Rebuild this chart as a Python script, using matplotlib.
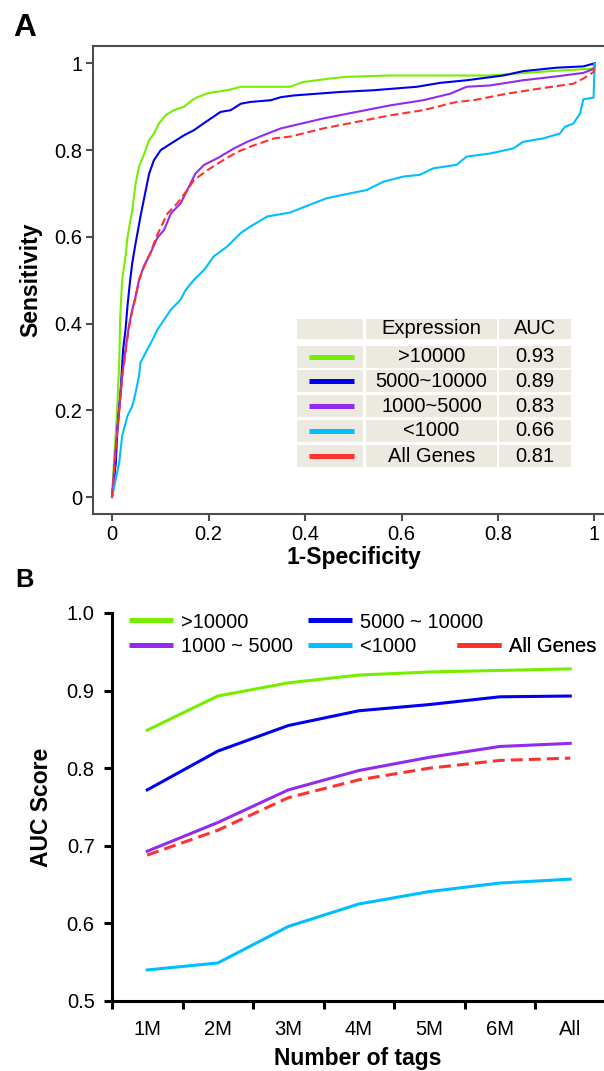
import matplotlib
matplotlib.use('Agg')
import matplotlib.pyplot as plt
from matplotlib.lines import Line2D
from matplotlib.patches import Rectangle

plt.rcParams['font.family'] = ['Liberation Sans', 'DejaVu Sans']

# ---- data: panel A (ROC curves) ----
groups = ['>10000', '5000~10000', '1000~5000', '<1000', 'All Genes']
auc_roc = [0.93, 0.89, 0.83, 0.66, 0.81]

fpr_gt10000 = [0, 0.004, 0.010, 0.015, 0.017, 0.021, 0.028, 0.032, 0.042, 0.049, 0.056,
               0.066, 0.077, 0.087, 0.097, 0.111, 0.128, 0.149, 0.166, 0.177, 0.201,
               0.239, 0.267, 0.369, 0.396, 0.452, 0.486, 0.576, 0.783, 0.908, 0.997, 1.0]
tpr_gt10000 = [0, 0.080, 0.187, 0.310, 0.416, 0.501, 0.555, 0.598, 0.662, 0.723, 0.762,
               0.789, 0.823, 0.838, 0.861, 0.880, 0.892, 0.900, 0.915, 0.922, 0.932,
               0.938, 0.946, 0.946, 0.957, 0.965, 0.969, 0.972, 0.972, 0.982, 0.988, 1.0]

fpr_5k10k = [0, 0.008, 0.011, 0.018, 0.023, 0.028, 0.032, 0.037, 0.042, 0.049, 0.059,
             0.070, 0.077, 0.087, 0.101, 0.122, 0.149, 0.170, 0.184, 0.205, 0.225,
             0.246, 0.267, 0.287, 0.329, 0.350, 0.377, 0.473, 0.542, 0.632, 0.680,
             0.735, 0.811, 0.852, 0.922, 0.977, 1.0]
tpr_5k10k = [0, 0.080, 0.156, 0.248, 0.340, 0.386, 0.440, 0.494, 0.540, 0.586, 0.647,
             0.708, 0.746, 0.777, 0.800, 0.815, 0.834, 0.846, 0.857, 0.873, 0.888,
             0.892, 0.907, 0.911, 0.915, 0.922, 0.926, 0.934, 0.938, 0.946, 0.955,
             0.961, 0.972, 0.982, 0.990, 0.993, 1.0]

fpr_1k5k = [0, 0.008, 0.015, 0.021, 0.028, 0.035, 0.042, 0.049, 0.056, 0.066, 0.080,
            0.094, 0.108, 0.122, 0.142, 0.156, 0.173, 0.191, 0.218, 0.253, 0.280,
            0.322, 0.350, 0.369, 0.438, 0.507, 0.576, 0.645, 0.701, 0.735, 0.783,
            0.852, 0.922, 0.977, 1.0, 1.0]
tpr_1k5k = [0, 0.118, 0.202, 0.279, 0.340, 0.394, 0.432, 0.463, 0.501, 0.532, 0.563,
            0.598, 0.616, 0.654, 0.677, 0.708, 0.746, 0.766, 0.781, 0.804, 0.819,
            0.838, 0.850, 0.855, 0.873, 0.888, 0.903, 0.915, 0.930, 0.946, 0.949,
            0.961, 0.970, 0.978, 0.988, 1.0]

fpr_lt1000 = [0, 0.015, 0.021, 0.032, 0.042, 0.049, 0.056, 0.059, 0.073, 0.084, 0.094,
              0.108, 0.122, 0.142, 0.153, 0.170, 0.191, 0.211, 0.239, 0.267, 0.287,
              0.322, 0.369, 0.410, 0.445, 0.479, 0.528, 0.562, 0.604, 0.638, 0.666,
              0.714, 0.735, 0.783, 0.832, 0.852, 0.894, 0.928, 0.939, 0.956, 0.970,
              0.977, 0.998, 1.0, 1.0]
tpr_lt1000 = [0, 0.080, 0.141, 0.187, 0.210, 0.241, 0.279, 0.310, 0.340, 0.363, 0.386,
              0.409, 0.432, 0.455, 0.478, 0.501, 0.524, 0.555, 0.578, 0.609, 0.624,
              0.647, 0.656, 0.674, 0.689, 0.697, 0.708, 0.727, 0.739, 0.743, 0.758,
              0.766, 0.785, 0.792, 0.804, 0.819, 0.827, 0.838, 0.854, 0.861, 0.884,
              0.917, 0.921, 0.984, 1.0]

fpr_all = [0, 0.008, 0.015, 0.021, 0.028, 0.035, 0.042, 0.049, 0.056, 0.066, 0.080,
           0.094, 0.115, 0.135, 0.156, 0.170, 0.198, 0.225, 0.260, 0.294, 0.336,
           0.369, 0.438, 0.507, 0.576, 0.645, 0.714, 0.749, 0.818, 0.887, 0.956,
           0.977, 0.998, 1.0]
tpr_all = [0, 0.110, 0.200, 0.275, 0.335, 0.390, 0.430, 0.460, 0.500, 0.530, 0.565,
           0.605, 0.654, 0.677, 0.708, 0.731, 0.754, 0.773, 0.796, 0.811, 0.827,
           0.831, 0.850, 0.865, 0.880, 0.892, 0.911, 0.915, 0.930, 0.942, 0.953,
           0.965, 0.980, 0.995]

# ---- data: panel B (AUC vs number of tags) ----
tags = ['1M', '2M', '3M', '4M', '5M', '6M', 'All']
auc_gt10000 = [0.849, 0.893, 0.910, 0.920, 0.924, 0.926, 0.928]
auc_5k10k = [0.772, 0.822, 0.855, 0.874, 0.882, 0.892, 0.893]
auc_1k5k = [0.693, 0.730, 0.772, 0.797, 0.814, 0.828, 0.832]
auc_lt1000 = [0.540, 0.549, 0.596, 0.625, 0.641, 0.652, 0.657]
auc_all = [0.688, 0.720, 0.762, 0.785, 0.800, 0.810, 0.813]
legend_b = ['>10000', '5000 ~ 10000', '1000 ~ 5000', '<1000', 'All Genes']

colors = ['#76EE00', '#0000EE', '#912CEE', '#00BFFF', '#FF3030']

W, H = 604, 1071
fig = plt.figure(figsize=(W / 100, H / 100), dpi=100)


def fx(x):
    return x / W


def fy(y):
    return 1 - y / H


FS = 14.5
LAB = 16.5
GREY = '#4d4d4d'

# ================= panel A =================
axA = fig.add_axes([fx(93), fy(514), fx(604) - fx(93), fy(46) - fy(514)])
roc = [(fpr_gt10000, tpr_gt10000), (fpr_5k10k, tpr_5k10k), (fpr_1k5k, tpr_1k5k),
       (fpr_lt1000, tpr_lt1000), (fpr_all, tpr_all)]
for i, (x, y) in enumerate(roc):
    if i == 4:
        axA.plot(x, y, color=colors[i], lw=1.5, dashes=(3.9, 1.9))
    else:
        axA.plot(x, y, color=colors[i], lw=1.5)

axA.set_xlim(-0.0394, 1.0197)
axA.set_ylim(-0.039, 1.040)
axA.spines['right'].set_visible(False)
for s in ['left', 'bottom', 'top']:
    axA.spines[s].set_color(GREY)
    axA.spines[s].set_linewidth(1.5)
axA.set_xticks([0, 0.2, 0.4, 0.6, 0.8, 1.0])
axA.set_xticklabels(['0', '0.2', '0.4', '0.6', '0.8', '1'])
axA.set_yticks([0, 0.2, 0.4, 0.6, 0.8, 1.0])
axA.set_yticklabels(['0', '0.2', '0.4', '0.6', '0.8', '1'])
axA.tick_params(direction='out', length=5, width=1.5, color=GREY, labelsize=FS)
axA.tick_params(axis='y', pad=2.5)
axA.tick_params(axis='x', pad=3)
axA.set_xlabel('1-Specificity', fontsize=LAB, fontweight='bold', va='center')
axA.xaxis.set_label_coords((354 - 93) / 511, (514 - 557) / 468)
axA.set_ylabel('Sensitivity', fontsize=LAB, fontweight='bold', va='center')
axA.yaxis.set_label_coords((31 - 93) / 511, 0.5)

# legend table of panel A
cols = [(297, 363), (366, 497), (499, 571)]
rows = [(319, 339), (346, 368), (370, 392), (395, 417), (420, 442), (445, 467)]
cell_color = '#ECE9E0'
for (y0, y1) in rows:
    for (x0, x1) in cols:
        fig.add_artist(Rectangle((fx(x0), fy(y1)), fx(x1) - fx(x0), fy(y0) - fy(y1),
                                 transform=fig.transFigure, facecolor=cell_color,
                                 edgecolor='none'))
fig.text(fx(431.5), fy(329), 'Expression', fontsize=FS, ha='center', va='center')
fig.text(fx(535), fy(329), 'AUC', fontsize=FS, ha='center', va='center')
for i, g in enumerate(groups):
    yc = (rows[i + 1][0] + rows[i + 1][1]) / 2
    fig.add_artist(Line2D([fx(309), fx(354)], [fy(yc), fy(yc)], transform=fig.transFigure,
                          color=colors[i], lw=3.6, solid_capstyle='butt'))
    fig.text(fx(431.5), fy(yc), g, fontsize=FS, ha='center', va='center')
    fig.text(fx(535), fy(yc), '%.2f' % auc_roc[i], fontsize=FS, ha='center', va='center')

# ================= panel B =================
axB = fig.add_axes([fx(112), fy(1001), fx(604) - fx(112), fy(613) - fy(1001)])
xs = list(range(1, len(tags) + 1))
series = [auc_gt10000, auc_5k10k, auc_1k5k, auc_lt1000, auc_all]
for i, s in enumerate(series):
    if i == 4:
        axB.plot(xs, s, color=colors[i], lw=2.2, dashes=(3.9, 2.0))
    else:
        axB.plot(xs, s, color=colors[i], lw=2.2)

axB.set_xlim(0.5, 0.5 + 492 / 70.5)
axB.set_ylim(0.5, 1.0)
axB.spines['right'].set_visible(False)
axB.spines['top'].set_visible(False)
for s in ['left', 'bottom']:
    axB.spines[s].set_linewidth(2.2)
axB.set_yticks([0.5, 0.6, 0.7, 0.8, 0.9, 1.0])
axB.set_yticklabels(['%.1f' % v for v in [0.5, 0.6, 0.7, 0.8, 0.9, 1.0]])
axB.set_xticks(xs)
axB.set_xticklabels(tags)
axB.set_xticks([x - 0.5 for x in xs], minor=True)
axB.tick_params(axis='y', direction='out', length=5.5, width=2.2, labelsize=FS, pad=7)
axB.tick_params(axis='x', which='major', length=0, labelsize=FS, pad=14)
axB.tick_params(axis='x', which='minor', direction='out', length=6, width=2.2)
axB.set_xlabel('Number of tags', fontsize=LAB, fontweight='bold', va='center')
axB.xaxis.set_label_coords(0.5, (1001 - 1058) / 388)
axB.set_ylabel('AUC Score', fontsize=LAB, fontweight='bold', va='center')
axB.yaxis.set_label_coords((41.5 - 112) / 492, 0.5)

# legend of panel B, one entry per slot
slots = [(129, 622), (308, 622), (129, 647), (308, 647), (457, 647)]
for i, lab in enumerate(legend_b):
    h = Line2D([], [], color=colors[i], lw=3.6, solid_capstyle='butt')
    leg = axB.legend([h], [lab], loc='center left', bbox_to_anchor=(fx(slots[i][0]), fy(slots[i][1])),
                     bbox_transform=fig.transFigure, frameon=False, borderpad=0,
                     borderaxespad=0, handlelength=2.19, handletextpad=0.4, fontsize=FS)
    axB.add_artist(leg)

fig.text(fx(13), fy(36), 'A', fontsize=22.8, fontweight='bold', ha='left', va='baseline')
fig.text(fx(15), fy(587), 'B', fontsize=18.4, fontweight='bold', ha='left', va='baseline')

fig.savefig('out.png', dpi=100)
